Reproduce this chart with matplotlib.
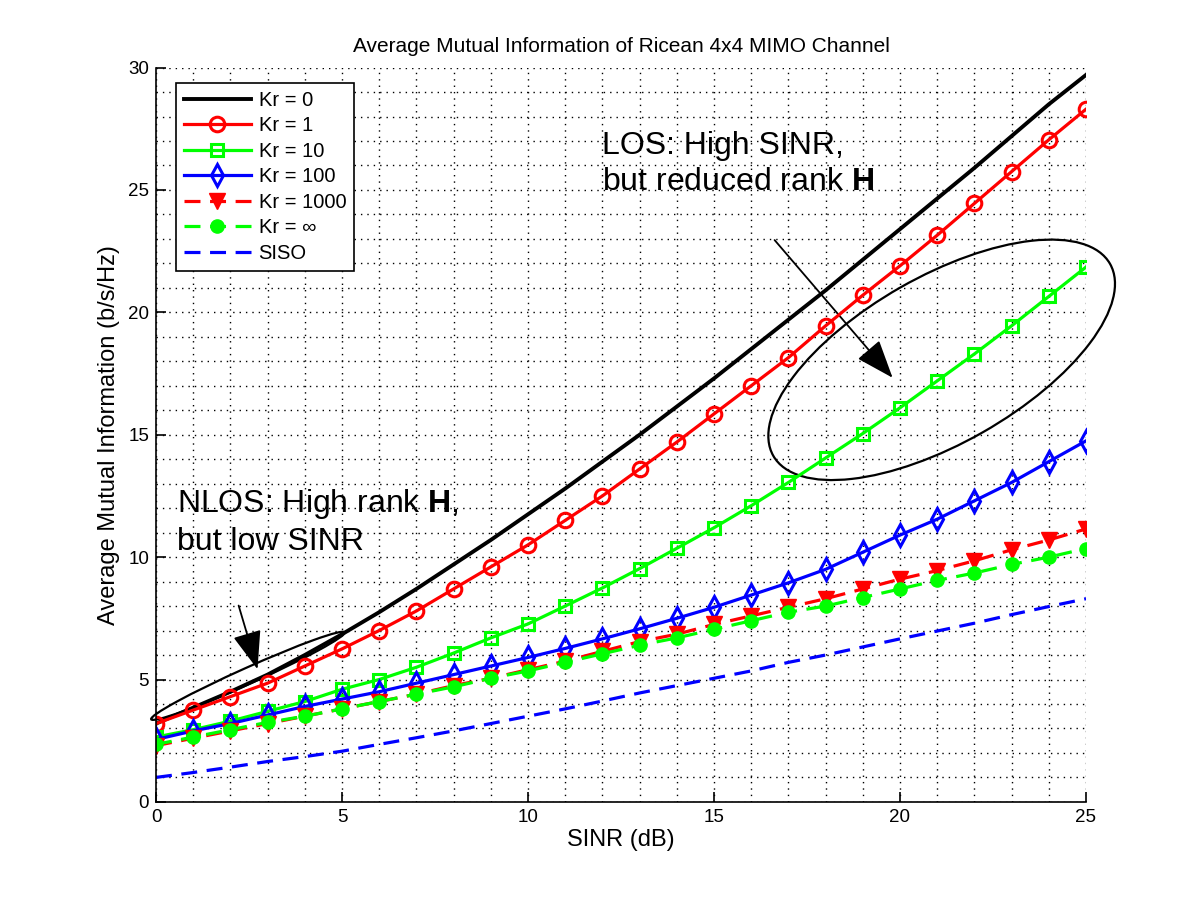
import numpy as np
import matplotlib
matplotlib.use("Agg")
import matplotlib.pyplot as plt
from matplotlib.patches import Ellipse, FancyArrowPatch
from matplotlib.transforms import ScaledTranslation

plt.rcParams['font.family'] = ['Liberation Sans', 'DejaVu Sans']
plt.rcParams['mathtext.fontset'] = 'custom'
plt.rcParams['mathtext.rm'] = 'Liberation Sans'
plt.rcParams['mathtext.bf'] = 'Liberation Sans:bold'

# SINR in dB
sinr = np.arange(0, 26)

# Kurven (b/s/Hz)
kr0 = [3.2, 3.85, 4.5, 5.2, 6.0, 6.85, 7.75, 8.7, 9.7, 10.7, 11.75, 12.8, 13.9,
       15.0, 16.15, 17.3, 18.5, 19.7, 20.9, 22.15, 23.4, 24.65, 25.9, 27.2, 28.5, 29.7]
kr1 = [3.2, 3.75, 4.3, 4.85, 5.55, 6.25, 7.0, 7.8, 8.7, 9.6, 10.5, 11.5, 12.5,
       13.6, 14.7, 15.85, 17.0, 18.15, 19.45, 20.7, 21.9, 23.15, 24.45, 25.75, 27.05, 28.3]
kr10 = [2.65, 2.95, 3.3, 3.7, 4.1, 4.6, 5.0, 5.5, 6.08, 6.7, 7.27, 8.0, 8.74,
        9.53, 10.36, 11.2, 12.1, 13.05, 14.05, 15.05, 16.1, 17.2, 18.3, 19.45, 20.65, 21.85]
kr100 = [2.55, 2.9, 3.2, 3.55, 3.9, 4.2, 4.5, 4.85, 5.2, 5.55, 5.9, 6.27, 6.66,
         7.07, 7.5, 7.95, 8.45, 8.95, 9.5, 10.2, 10.9, 11.55, 12.3, 13.05, 13.9, 14.75]
kr1000 = [2.3, 2.6, 2.9, 3.2, 3.5, 3.8, 4.1, 4.4, 4.75, 5.05, 5.4, 5.75, 6.15,
          6.55, 6.85, 7.25, 7.6, 7.95, 8.3, 8.7, 9.1, 9.45, 9.85, 10.3, 10.7, 11.15]
krinf = [2.35, 2.65, 2.95, 3.25, 3.5, 3.8, 4.1, 4.4, 4.7, 5.05, 5.35, 5.7, 6.05,
         6.4, 6.7, 7.05, 7.4, 7.75, 8.0, 8.35, 8.7, 9.05, 9.35, 9.7, 10.0, 10.35]
siso = [1.0, 1.2, 1.42, 1.65, 1.85, 2.07, 2.35, 2.62, 2.9, 3.2, 3.5, 3.8, 4.12,
        4.45, 4.75, 5.05, 5.35, 5.7, 6.0, 6.33, 6.66, 6.98, 7.3, 7.65, 7.98, 8.3]

labels = ['Kr = 0', 'Kr = 1', 'Kr = 10', 'Kr = 100', 'Kr = 1000', 'Kr = ∞', 'SISO']

fig = plt.figure(figsize=(12, 9.01), dpi=100)
ax = fig.add_axes([0.13, 0.11, 0.775, 0.815])

dash = (0, (5, 3))
ax.plot(sinr, kr0, color='black', lw=2.8, label=labels[0])
ax.plot(sinr, kr1, color='red', lw=2.3, marker='o', ms=10.5, mfc='none', mew=2.2, label=labels[1])
ax.plot(sinr, kr10, color='#00ff00', lw=2.3, marker='s', ms=9, mfc='none', mew=2.2, label=labels[2])
ax.plot(sinr, kr100, color='blue', lw=2.3, marker='d', ms=11, mfc='none', mew=2.2, label=labels[3])
ax.plot(sinr, kr1000, color='red', lw=2.3, ls=dash, marker='v', ms=11, label=labels[4])
ax.plot(sinr, krinf, color='#00ff00', lw=2.3, ls=dash, marker='o', ms=9.5, label=labels[5])
ax.plot(sinr, siso, color='blue', lw=2.3, ls=dash, label=labels[6])

ax.set_xlim(0, 25)
ax.set_ylim(0, 30)
ax.set_xticks(np.arange(0, 26, 5))
ax.set_yticks(np.arange(0, 31, 5))
ax.set_xticks(np.arange(0, 26, 1), minor=True)
ax.set_yticks(np.arange(0, 31, 1), minor=True)
ax.grid(which='both', color='black', ls=(0, (1, 3.6)), lw=1.0)
ax.tick_params(which='major', direction='in', length=7, width=1.2, labelsize=13.5, pad=5)
ax.tick_params(which='minor', length=0)
ax.spines['top'].set_visible(False)
ax.spines['right'].set_visible(False)
ax.spines['left'].set_linewidth(1.2)
ax.spines['bottom'].set_linewidth(1.2)

ax.set_xlabel('SINR (dB)', fontsize=17, labelpad=2)
ax.set_ylabel('Average Mutual Information (b/s/Hz)', fontsize=17, labelpad=6)
ax.set_title('Average Mutual Information of Ricean 4x4 MIMO Channel', fontsize=15, pad=11)

leg = ax.legend(loc='upper left', bbox_to_anchor=(0.0215, 0.979), borderaxespad=0,
                fontsize=14.5, handlelength=3.3, handletextpad=0.4, labelspacing=0.32,
                borderpad=0.4, fancybox=False, framealpha=1, edgecolor='black')
leg.get_frame().set_linewidth(1.2)

# Annotationen
ax.text(11.99, 25.0, 'LOS: High SINR,\nbut reduced rank $\\mathbf{H}$', fontsize=23,
        va='baseline', ha='left', linespacing=1.25)
ax.text(0.56, 10.29, 'NLOS: High rank $\\mathbf{H}$,\nbut low SINR', fontsize=23,
        va='baseline', ha='left', linespacing=1.25)

for start, tip in [((16.58, 23.04), (19.85, 17.24)), ((2.2, 8.13), (2.75, 5.31))]:
    arr = FancyArrowPatch(start, tip, arrowstyle='-|>,head_length=1.2,head_width=0.45',
                          mutation_scale=20, color='black', lw=1.3, clip_on=False)
    ax.add_patch(arr)

# Ellipsen: Zentrum in Datenkoordinaten, Groesse in Zoll
for (cx, cy), w, h, ang in [((21.12, 18.06), 3.876, 1.666, 29.7),
                            ((2.47, 5.15), 2.12, 0.16, 24.2)]:
    tr = fig.dpi_scale_trans + ScaledTranslation(cx, cy, ax.transData)
    e = Ellipse((0, 0), w, h, angle=ang, transform=tr, fill=False,
                edgecolor='black', lw=1.6, clip_on=False)
    ax.add_patch(e)

fig.savefig('out.png', dpi=100)
